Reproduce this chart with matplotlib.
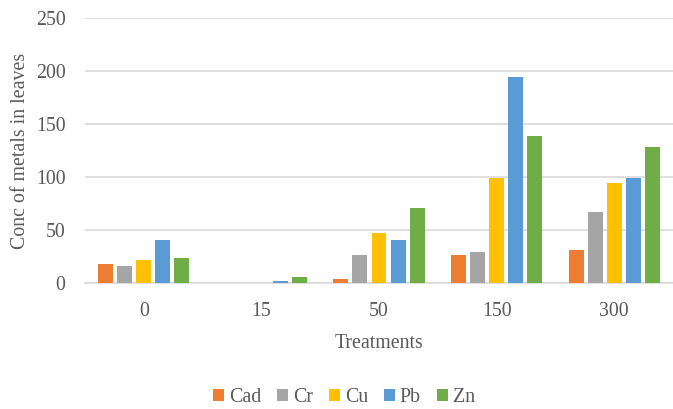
import numpy as np
import matplotlib.pyplot as plt
import matplotlib.patches as mpatches

plt.rcParams["font.family"] = "Liberation Serif"

TREATMENTS = ["0", "15", "50", "150", "300"]
METALS = ["Cad", "Cr", "Cu", "Pb", "Zn"]

CAD = [18, 0, 3.5, 26, 31]
CR = [16.5, 0, 26, 29, 67]
CU = [21.5, 0, 47, 99.5, 94]
PB = [41, 2, 40.5, 194.5, 99.5]
ZN = [23.5, 5.5, 71, 139, 128]

COLORS = ["#ED7D31", "#A5A5A5", "#FFC000", "#5B9BD5", "#70AD47"]
TEXT = "#595959"
FS = 14.3


def main():
    series = [CAD, CR, CU, PB, ZN]
    fig = plt.figure(figsize=(6.73, 4.09), dpi=100)
    ax = fig.add_axes([85 / 673, 1 - 283 / 409, 588 / 673, 265 / 409])

    x = np.arange(len(TREATMENTS))
    pitch = 0.162
    width = 0.127
    for i, (vals, color) in enumerate(zip(series, COLORS)):
        ax.bar(x + (i - 2) * pitch, vals, width=width, color=color,
               label=METALS[i], zorder=3)

    ax.set_xlim(-0.5, len(TREATMENTS) - 0.5)
    ax.set_ylim(0, 250)
    ax.set_yticks(range(0, 251, 50))
    ax.set_xticks(x)
    ax.set_xticklabels(TREATMENTS)
    ax.yaxis.grid(True, color="#D9D9D9", linewidth=1.2, zorder=0)

    for side in ["top", "right", "left"]:
        ax.spines[side].set_visible(False)
    ax.spines["bottom"].set_color("#D9D9D9")
    ax.spines["bottom"].set_linewidth(1.2)
    ax.tick_params(length=0, labelsize=FS, colors=TEXT)
    ax.tick_params(axis="y", pad=14)
    ax.tick_params(axis="x", pad=14)

    ax.set_ylabel("Conc of metals in leaves", fontsize=FS, color=TEXT,
                  labelpad=4)
    ax.set_xlabel("Treatments", fontsize=FS, color=TEXT, labelpad=9)

    handles = [mpatches.Patch(facecolor=c, label=m)
               for m, c in zip(METALS, COLORS)]
    fig.legend(handles=handles, loc="center", ncol=5,
               bbox_to_anchor=(344 / 673, 1 - 398 / 409), frameon=False,
               fontsize=FS, labelcolor=TEXT, handlelength=0.55,
               handleheight=0.55, handletextpad=0.25, columnspacing=0.8)

    fig.savefig("out.png", dpi=100)


if __name__ == "__main__":
    main()
